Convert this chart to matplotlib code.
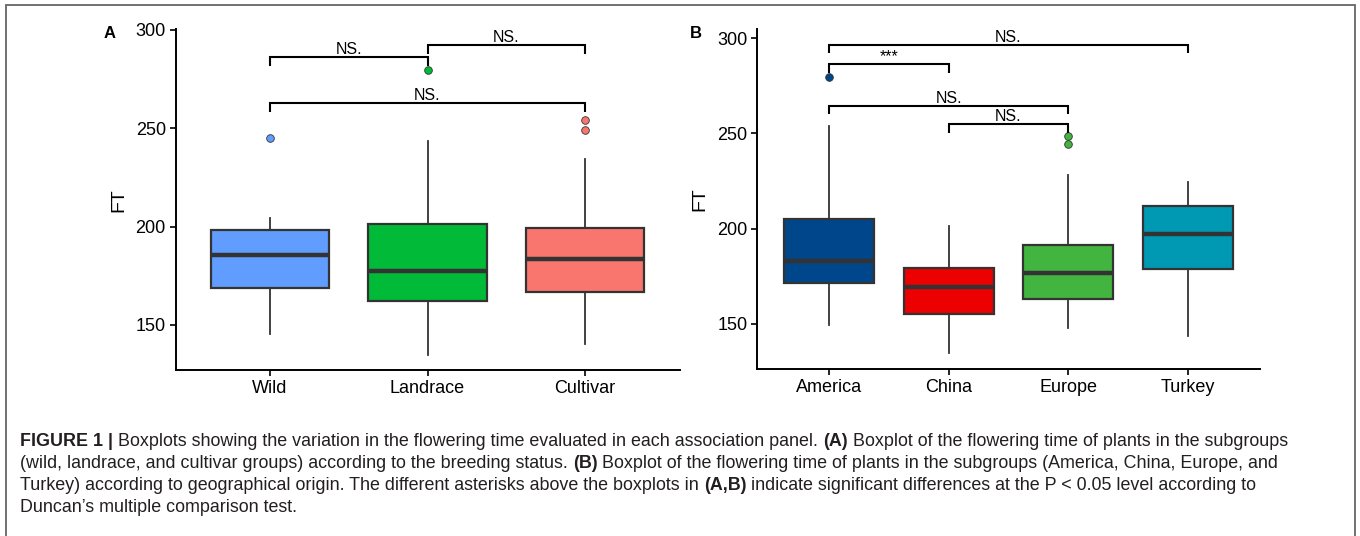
import matplotlib
matplotlib.use("Agg")
import matplotlib.pyplot as plt
from matplotlib.patches import Rectangle

plt.rcParams['font.family'] = ['Liberation Sans', 'DejaVu Sans']

# Panel A: breeding status
cats_a = ['Wild', 'Landrace', 'Cultivar']
cols_a = ['#619CFF', '#00BA38', '#F8766D']
q1_a = [168.7, 162.4, 166.8]
med_a = [185.4, 177.4, 183.8]
q3_a = [198.3, 201.5, 199.3]
lo_a = [145.6, 134.7, 140.5]
hi_a = [204.3, 243.8, 234.6]
out_a = [[244.9], [279.7], [254.2, 249.2]]
# brackets: (from, to, height, label)
br_a = [(1, 2, 286.3, 'NS.'), (2, 3, 292.4, 'NS.'), (1, 3, 262.7, 'NS.')]

# Panel B: geographical origin
cats_b = ['America', 'China', 'Europe', 'Turkey']
cols_b = ['#00468B', '#ED0000', '#42B540', '#0099B4']
q1_b = [171.4, 155.1, 163.2, 178.8]
med_b = [182.8, 169.3, 176.7, 197.0]
q3_b = [205.3, 179.5, 191.2, 211.9]
lo_b = [149.5, 134.7, 148.1, 143.5]
hi_b = [253.9, 201.4, 228.4, 224.6]
out_b = [[279.5], [], [248.8, 244.6], []]
br_b = [(1, 4, 296.5, 'NS.'), (1, 2, 286.3, '***'), (1, 3, 264.5, 'NS.'), (2, 3, 255.0, 'NS.')]

W, H = 1360, 536
fig = plt.figure(figsize=(13.6, 5.36), dpi=100)

# frame around the figure
fig.patches.append(Rectangle((6 / W, -0.02), (1355 - 6) / W, 1.02 - 5 / H,
                             transform=fig.transFigure, fill=False,
                             edgecolor='#666666', lw=1.3))

ax_a = fig.add_axes([175.5 / W, 1 - 370.4 / H, 504 / W, 341.4 / H])
ax_b = fig.add_axes([757 / W, 1 - 368.8 / H, 503 / W, 340.1 / H])


def draw_panel(ax, cats, cols, q1, med, q3, lo, hi, outs, brackets, ylim):
    stats = []
    for i in range(len(cats)):
        stats.append(dict(med=med[i], q1=q1[i], q3=q3[i], whislo=lo[i],
                          whishi=hi[i], fliers=outs[i], label=cats[i]))
    bp = ax.bxp(stats, positions=range(1, len(cats) + 1), widths=0.75,
                patch_artist=True, showcaps=False,
                boxprops=dict(edgecolor='#333333', linewidth=1.6),
                medianprops=dict(color='#333333', linewidth=3.2),
                whiskerprops=dict(color='#333333', linewidth=1.3),
                flierprops=dict(marker='o', markersize=5.5,
                                markeredgecolor='#333333', markeredgewidth=0.6))
    for patch, c in zip(bp['boxes'], cols):
        patch.set_facecolor(c)
    for fl, c in zip(bp['fliers'], cols):
        fl.set_markerfacecolor(c)
    for i, j, top, lab in brackets:
        ax.plot([i, i, j, j], [top - 4.6, top, top, top - 4.6], color='black',
                lw=1.5, solid_capstyle='butt', solid_joinstyle='miter')
        ax.annotate(lab, ((i + j) / 2, top), xytext=(0, 2.2),
                    textcoords='offset points', ha='center', va='baseline',
                    fontsize=11.5, color='black')
    ax.set_xlim(0.4, len(cats) + 0.6)
    ax.set_ylim(*ylim)
    ax.set_yticks([150, 200, 250, 300])
    ax.set_xticks(range(1, len(cats) + 1))
    ax.set_xticklabels(cats)
    for s in ['top', 'right']:
        ax.spines[s].set_visible(False)
    for s in ['left', 'bottom']:
        ax.spines[s].set_linewidth(1.4)
    ax.tick_params(labelsize=13, length=4, width=1.2, colors='black', pad=3)
    ax.set_ylabel('FT', fontsize=14, labelpad=6)


draw_panel(ax_a, cats_a, cols_a, q1_a, med_a, q3_a, lo_a, hi_a, out_a, br_a, (126.9, 300.5))
draw_panel(ax_b, cats_b, cols_b, q1_b, med_b, q3_b, lo_b, hi_b, out_b, br_b, (126.5, 304.9))

fig.text(110 / W, 1 - 33 / H, 'A', fontsize=12, fontweight='bold', ha='center', va='center')
fig.text(696 / W, 1 - 33 / H, 'B', fontsize=12, fontweight='bold', ha='center', va='center')

# caption with mixed bold / regular runs
caption = [
    [('FIGURE 1 |', True), (' Boxplots showing the variation in the flowering time evaluated in each association panel. ', False),
     ('(A)', True), (' Boxplot of the flowering time of plants in the subgroups', False)],
    [('(wild, landrace, and cultivar groups) according to the breeding status. ', False), ('(B)', True),
     (' Boxplot of the flowering time of plants in the subgroups (America, China, Europe, and', False)],
    [('Turkey) according to geographical origin. The different asterisks above the boxplots in ', False),
     ('(A,B)', True), (' indicate significant differences at the P < 0.05 level according to', False)],
    [('Duncan\u2019s multiple comparison test.', False)],
]
line_y = [441, 463, 485, 507]

renderer = fig.canvas.get_renderer()
for parts, yy in zip(caption, line_y):
    x = 20 / W
    for txt, bold in parts:
        t = fig.text(x, 1 - yy / H, txt, fontsize=12.9, color='#231f20',
                     fontweight='bold' if bold else 'normal', va='center', ha='left')
        x += t.get_window_extent(renderer).width / W

fig.savefig('out.png', dpi=100)
